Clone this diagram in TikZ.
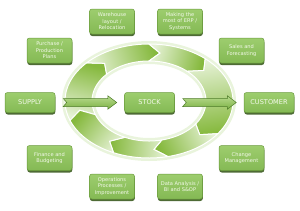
\documentclass[tikz,border=0pt]{standalone}
\usepackage{fontspec}
\setmainfont{DejaVu Sans}
\usetikzlibrary{calc,shadows}
\definecolor{boxtop}{HTML}{9DCD6E}
\definecolor{boxbot}{HTML}{84B954}
\definecolor{boxline}{HTML}{6A9B3C}
\definecolor{boxtext}{HTML}{F3F9EA}
\definecolor{shadowc}{HTML}{4E6B35}
\definecolor{seglight}{HTML}{E6F2D6}
\definecolor{segdark}{HTML}{86B93E}
\definecolor{halo}{HTML}{E9F4DC}
\definecolor{arrtop}{HTML}{B9DC8F}
\definecolor{arrbot}{HTML}{7CB144}
\definecolor{arrline}{HTML}{4F7D2A}
\begin{document}
\begin{tikzpicture}[x=1pt,y=-1pt,
  smallbox/.style={rounded corners=2.5pt, minimum width=45pt, minimum height=25pt,
    inner sep=0pt, align=center, top color=boxtop, bottom color=boxbot,
    draw=boxline, line width=.5pt, text=boxtext,
    font=\fontsize{5.1}{6.5}\selectfont,
    general shadow={fill=shadowc, shadow yshift=-2pt, shadow xshift=0.3pt}},
  mainbox/.style={smallbox, minimum width=50pt, minimum height=20pt,
    font=\fontsize{6.6}{8}\selectfont},
  blockarrow/.style={top color=arrtop, bottom color=arrbot, draw=arrline,
    line width=.5pt, line join=miter},
  ringseg/.style={draw=white, line width=1pt, line join=miter}]
\useasboundingbox (0,0) rectangle (300,210);
\def\cx{149}\def\cy{101}
\def\Rox{84}\def\Roy{57}\def\Rix{57}\def\Riy{40}
\def\Rmx{70.5}\def\Rmy{48.5}
% halo behind the ring
\fill[halo, even odd rule]
  (\cx,\cy) ellipse [x radius=87pt, y radius=60pt]
  (\cx,\cy) ellipse [x radius=54pt, y radius=37pt];
% ring segments: tail angle, head angle, shading angle
\foreach \ta/\tb/\sa in {200/138/-15.4, 138/90/-72.4, 90/48/-105.2, 48/-35/-170.9,
  -35/-77/115.5, -77/-115/85.7, -115/-160/52.2}{
  \pgfmathsetmacro\tip{\tb-9}
  \pgfmathsetmacro\notch{\ta-9}
  \path[ringseg, top color=segdark, bottom color=seglight, shading angle=\sa]
    plot[domain=\ta:\tb, samples=25, variable=\t] ({\cx+\Rox*cos(\t)},{\cy-\Roy*sin(\t)})
    -- ({\cx+\Rmx*cos(\tip)},{\cy-\Rmy*sin(\tip)})
    -- plot[domain=\tb:\ta, samples=25, variable=\t] ({\cx+\Rix*cos(\t)},{\cy-\Riy*sin(\t)})
    -- ({\cx+\Rmx*cos(\notch)},{\cy-\Rmy*sin(\notch)}) -- cycle;
}
% main nodes
\node[mainbox] (supply) at (30,102.5) {SUPPLY};
\node[mainbox] (stock) at (149.5,102.5) {STOCK};
\node[mainbox] (customer) at (269,102.5) {CUSTOMER};
% block arrows
\foreach \a/\b in {supply/stock, stock/customer}{
  \coordinate (s) at ($(\a.east)+(8,0)$);
  \coordinate (e) at ($(\b.west)+(-7.5,0)$);
  \path[blockarrow] ($(s)+(0,-4)$) -- ($(e)+(-9,-4)$) -- ($(e)+(-9,-6.8)$) -- (e)
    -- ($(e)+(-9,6.8)$) -- ($(e)+(-9,4)$) -- ($(s)+(0,4)$) -- ($(s)+(3.5,0)$) -- cycle;
}
% surrounding boxes
\node[smallbox] (warehouse) at (112,21.5) {Warehouse\\layout /\\Relocation};
\node[smallbox] (erp) at (180,21.5) {Making the\\most of ERP /\\Systems};
\node[smallbox] (purchase) at (49.5,50.5) {Purchase /\\Production\\Plans};
\node[smallbox] (sales) at (241.5,50.5) {Sales and\\Forecasting};
\node[smallbox] (finance) at (49.5,158) {Finance and\\Budgeting};
\node[smallbox] (change) at (241.5,158) {Change\\Management};
\node[smallbox] (operations) at (112,186.5) {Operations\\Processes /\\Improvement};
\node[smallbox] (data) at (180,186.5) {Data Analysis /\\BI and S\&OP};
\end{tikzpicture}
\end{document}
